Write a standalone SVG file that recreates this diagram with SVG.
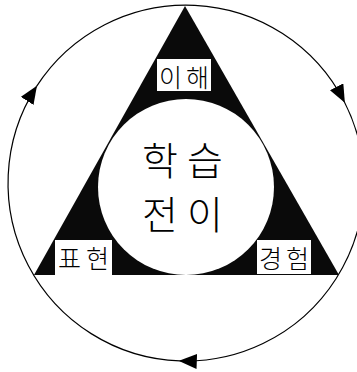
<svg xmlns="http://www.w3.org/2000/svg" width="357" height="372" viewBox="0 0 357 372">
  <style>
    .lbl { font-family: "Noto Sans CJK KR", "Noto Sans", sans-serif; font-weight: 300; fill: #000; }
    .box { fill: #fff; stroke: none; }
    .cyc { fill: none; stroke: #000; stroke-width: 1.2; }
  </style>
  <defs>
    <marker id="ah" markerUnits="userSpaceOnUse" viewBox="0 0 18 15" markerWidth="18" markerHeight="15" refX="17" refY="7.5" orient="auto">
      <path d="M0,0 L18,7.5 L0,15 Z" fill="#000"/>
    </marker>
  </defs>
  <rect width="357" height="372" fill="#fff"/>

  <g id="connectors">
    <path class="cyc" d="M36.4,86.6 A178,178 0 0 1 344.4,101.9" marker-end="url(#ah)"/>
    <path class="cyc" d="M344.4,101.9 A178,178 0 0 1 179.8,360.9" marker-end="url(#ah)"/>
    <path class="cyc" d="M179.8,360.9 A178,178 0 0 1 36.4,86.6" marker-end="url(#ah)"/>
  </g>

  <g id="triangle">
    <polygon points="185,6 34,275 339,275" fill="#0a0a0a"/>
  </g>

  <g id="node-center">
    <circle cx="186" cy="187" r="88" fill="#fff"/>
    <text class="lbl" font-size="39" x="142 187" y="175">학습</text>
    <text class="lbl" font-size="39" x="142 187" y="229">전이</text>
  </g>

  <g id="node-understanding">
    <rect class="box" x="157" y="59" width="54" height="32"/>
    <text class="lbl" font-size="25" x="159 186" y="87">이해</text>
  </g>

  <g id="node-expression">
    <rect class="box" x="55" y="240" width="57" height="35"/>
    <text class="lbl" font-size="25" x="58 86" y="268">표현</text>
  </g>

  <g id="node-experience">
    <rect class="box" x="257" y="240" width="54" height="34"/>
    <text class="lbl" font-size="25" x="259 286" y="268">경험</text>
  </g>
</svg>
